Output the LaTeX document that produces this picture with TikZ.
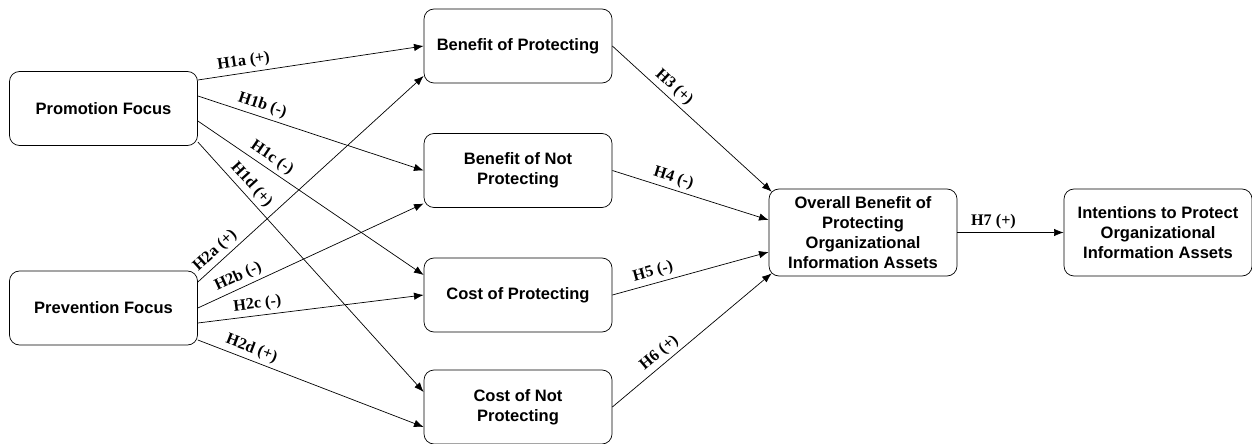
\documentclass[tikz,border=0pt]{standalone}
\usepackage{fontspec}
\setmainfont{Liberation Serif}
\setsansfont{Liberation Sans}
\usepackage{tikz}
\usetikzlibrary{positioning,calc,arrows.meta}

\begin{document}
\begin{tikzpicture}[>={Latex[length=5.5pt,width=4.2pt]},
    box/.style={draw,rounded corners=0.2cm,minimum width=3.76cm,minimum height=1.48cm,
        align=center,font=\sffamily\bfseries\fontsize{9.4}{11.3}\selectfont},
    hyp/.style={sloped,above,inner sep=2pt,font=\bfseries\fontsize{9.2}{11}\selectfont}]
            \useasboundingbox (0,0) rectangle (25.04,8.86);

            \node[box] (prom) at (2.07,6.69) {Promotion Focus};
            \node[box] (prev) at (2.07,2.70) {Prevention Focus};
            \node[box] (bop) at (10.36,7.94) {Benefit of Protecting};
            \node[box] (bnp) at (10.36,5.45) {Benefit of Not\\Protecting};
            \node[box] (cop) at (10.36,2.96) {Cost of Protecting};
            \node[box] (cnp) at (10.36,0.72) {Cost of Not\\Protecting};
            \node[box,minimum height=1.74cm] (ovr) at (17.26,4.21) {Overall Benefit of\\Protecting\\Organizational\\Information Assets};
            \node[box,minimum height=1.74cm] (intn) at (23.16,4.21) {Intentions to Protect\\Organizational\\Information Assets};

            % promotion focus
            \draw[->] ([yshift=0.57cm]prom.east) -- (bop.west) node[hyp,pos=0.21] {H1a (+)};
            \draw[->] ([yshift=0.25cm]prom.east) -- (bnp.west) node[hyp,pos=0.27] {H1b (-)};
            \draw[->] ([yshift=-0.25cm]prom.east) -- ([yshift=0.4cm]cop.west) node[hyp,pos=0.3] {H1c (-)};
            \draw[->] ([yshift=-0.67cm]prom.east) -- ([yshift=0.3cm]cnp.west) node[hyp,pos=0.2] {H1d (+)};

            % prevention focus
            \draw[->] ([yshift=0.52cm]prev.east) -- ([yshift=-0.6cm]bop.west) node[hyp,pos=0.11] {H2a (+)};
            \draw[->] (prev.east) -- ([yshift=-0.66cm]bnp.west) node[hyp,pos=0.2] {H2b (-)};
            \draw[->] ([yshift=-0.3cm]prev.east) -- (cop.west) node[hyp,pos=0.27] {H2c (-)};
            \draw[->] ([yshift=-0.64cm]prev.east) -- ([yshift=-0.4cm]cnp.west) node[hyp,pos=0.22] {H2d (+)};

            % to overall benefit
            \draw[->] (bop.east) -- ([shift={(0.06,-0.06)}]ovr.north west) node[hyp,pos=0.34] {H3 (+)};
            \draw[->] (bnp.east) -- ([yshift=0.25cm]ovr.west) node[hyp,pos=0.37] {H4 (-)};
            \draw[->] (cop.east) -- ([yshift=-0.39cm]ovr.west) node[hyp,pos=0.28] {H5 (-)};
            \draw[->] (cnp.east) -- ([shift={(0.06,0.06)}]ovr.south west) node[hyp,pos=0.34] {H6 (+)};

            \draw[->] (ovr.east) -- (intn.west) node[hyp,pos=0.34] {H7 (+)};
\end{tikzpicture}
\end{document}
